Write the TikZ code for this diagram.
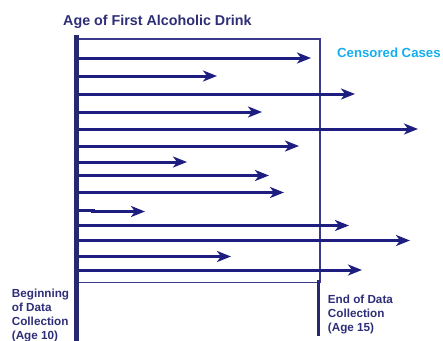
\documentclass[tikz,border=0pt]{standalone}
\usepackage{fontspec}
\setmainfont{Liberation Sans}
\usepackage{tikz}
\usetikzlibrary{arrows.meta}
\definecolor{caseNavy}{HTML}{1E1E80}
\definecolor{barNavy}{HTML}{28286E}
\definecolor{labelNavy}{HTML}{2E2E78}
\definecolor{boxNavy}{HTML}{3A3A8C}
\definecolor{censorCyan}{HTML}{14AEEF}

\begin{document}
\begin{tikzpicture}[x=1pt,y=-1pt,
    casearrow/.style={line width=3pt,caseNavy,-{Stealth[length=14pt,width=11pt,inset=4pt]}},
    lbl/.style={inner sep=0pt,text=labelNavy,font=\fontsize{11.7}{14}\selectfont\bfseries,align=left}]
  \useasboundingbox (0,0) rectangle (443,340);

  % observation window
  \draw[line width=1.3pt,boxNavy] (78,39) -- (320,39) -- (320,282.5) -- (78,282.5);
  \draw[line width=2.6pt,barNavy] (318.5,280) coordinate (endtop) -- (318.5,336) coordinate (endbot);

  % one arrow per case: y / end of follow-up
  \foreach \y/\tip [count=\i] in {58/311,76/217,94/355,112/262,129/418,146/299,162/187,
      175.5/269,192.5/284,225.5/349,240.5/410,256.5/231,270/362} {
    \coordinate (s\i) at (76,\y);
    \coordinate (t\i) at (\tip,\y);
    \draw[casearrow] (s\i) -- (t\i);
  }
  % the short one with the little step
  \coordinate (sj) at (76,210.3);
  \coordinate (bj) at (95,210.3);
  \coordinate (cj) at (91,211.5);
  \coordinate (tj) at (145,211.5);
  \draw[line width=2.4pt,caseNavy] (sj) -- (bj);
  \draw[casearrow] (cj) -- (tj);

  % start of data collection
  \draw[line width=5.5pt,barNavy] (76.3,35) coordinate (bartop) -- (76.3,341) coordinate (barbot);

  \node[anchor=base west,inner sep=0pt,text=labelNavy,font=\fontsize{14.3}{16}\selectfont\bfseries]
    (title) at (63,25) {Age of First Alcoholic Drink};
  \node[anchor=base west,inner sep=0pt,text=censorCyan,font=\fontsize{13.2}{15}\selectfont\bfseries]
    (censored) at (337,57.5) {Censored Cases};
  \node[lbl,anchor=north west] (startlbl) at (11.7,289) {Beginning\\of Data\\Collection\\(Age 10)};
  \node[lbl,anchor=north west] (endlbl) at (327.7,295) {End of Data\\Collection\\(Age 15)};
\end{tikzpicture}
\end{document}
